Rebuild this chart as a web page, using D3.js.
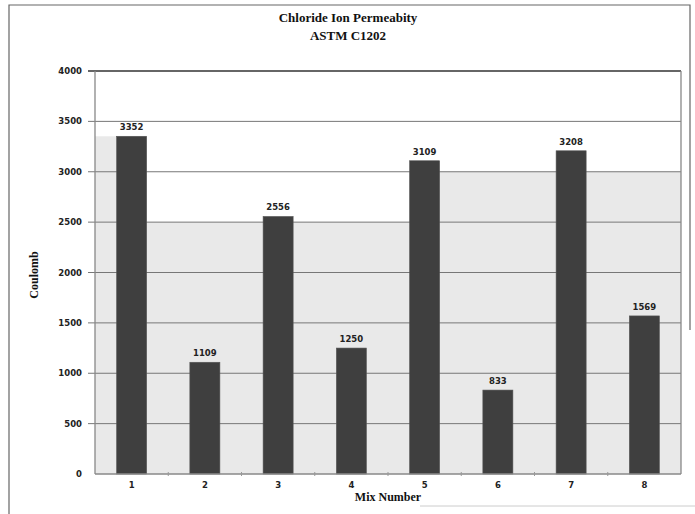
<!DOCTYPE html>
<html lang="en">
<head>
    <meta charset="UTF-8">
    <title>Chloride Ion Permeability</title>
    <script src="https://d3js.org/d3.v7.min.js"></script>
    <style>
        body { margin: 0; background: #fff; }
        .tick-lbl { font-family: "DejaVu Sans", sans-serif; font-weight: bold; font-size: 8.5px; fill: #222; }
        .val-lbl { font-family: "DejaVu Sans", sans-serif; font-weight: bold; font-size: 8.5px; fill: #222; }
        .title { font-family: "Liberation Serif", serif; font-weight: bold; font-size: 13px; fill: #111; }
        .axis-title { font-family: "Liberation Serif", serif; font-weight: bold; font-size: 12px; fill: #111; }
    </style>
</head>
<body>
    <svg id="chart"></svg>
    <script>
        const mixes = ["1", "2", "3", "4", "5", "6", "7", "8"];
        const coulomb = [3352, 1109, 2556, 1250, 3109, 833, 3208, 1569];
        const yTicks = [0, 500, 1000, 1500, 2000, 2500, 3000, 3500, 4000];

        const width = 695, height = 514;
        const plotLeft = 95, plotRight = 681, plotTop = 71, plotBottom = 474;

        const svg = d3.select("#chart").attr("width", width).attr("height", height);

        const x = d3.scaleBand().domain(mixes).range([plotLeft, plotRight]).paddingInner(0.59).paddingOuter(0.295);
        const y = d3.scaleLinear().domain([0, 4000]).range([plotBottom, plotTop]);
        const step = x.step();

        // outer frame of the scanned page
        svg.append("path")
            .attr("d", "M9,514 L9,5 L690,5 L690,330")
            .attr("fill", "none").attr("stroke", "#666").attr("stroke-width", 1.2);
        svg.append("line").attr("x1", 420).attr("x2", 695).attr("y1", 506).attr("y2", 506)
            .attr("stroke", "#ccc");

        // grey shading in the plot area (scan tone)
        const shade = "#e9e9e9";
        svg.append("rect")
            .attr("x", plotLeft).attr("y", y(2500)).attr("width", plotRight - plotLeft).attr("height", plotBottom - y(2500))
            .attr("fill", shade);
        svg.append("rect")
            .attr("x", plotLeft).attr("y", y(3352)).attr("width", x("1") + x.bandwidth() - plotLeft).attr("height", y(2500) - y(3352))
            .attr("fill", shade);
        svg.append("rect")
            .attr("x", x("5")).attr("y", y(3000)).attr("width", plotRight - x("5")).attr("height", y(2500) - y(3000))
            .attr("fill", shade);

        // gridlines with tick stubs on the left
        svg.append("g").selectAll("line")
            .data(yTicks.filter(d => d > 0))
            .enter().append("line")
            .attr("x1", plotLeft - 7).attr("x2", plotRight)
            .attr("y1", d => y(d)).attr("y2", d => y(d))
            .attr("stroke", d => d === 4000 ? "#333" : "#777")
            .attr("stroke-width", d => d === 4000 ? 1.3 : 1);

        // y tick labels
        svg.append("g").selectAll("text")
            .data(yTicks)
            .enter().append("text")
            .attr("class", "tick-lbl")
            .attr("x", 82).attr("y", d => y(d) + 3)
            .attr("text-anchor", "end")
            .text(d => d);

        // bars
        svg.append("g").selectAll("rect")
            .data(coulomb)
            .enter().append("rect")
            .attr("x", (d, i) => x(mixes[i]))
            .attr("y", d => y(d))
            .attr("width", x.bandwidth())
            .attr("height", d => plotBottom - y(d))
            .attr("fill", "#3f3f3f")
            .attr("stroke", "#555").attr("stroke-width", 0.6);

        // value labels
        svg.append("g").selectAll("text")
            .data(coulomb)
            .enter().append("text")
            .attr("class", "val-lbl")
            .attr("x", (d, i) => x(mixes[i]) + x.bandwidth() / 2)
            .attr("y", d => y(d) - 6)
            .attr("text-anchor", "middle")
            .text(d => d);

        // plot frame
        svg.append("line").attr("x1", plotLeft).attr("x2", plotLeft).attr("y1", plotTop).attr("y2", plotBottom)
            .attr("stroke", "#888").attr("stroke-width", 1.3);
        svg.append("line").attr("x1", plotRight).attr("x2", plotRight).attr("y1", plotTop).attr("y2", plotBottom)
            .attr("stroke", "#888").attr("stroke-width", 1.3);
        svg.append("line").attr("x1", plotLeft).attr("x2", plotRight).attr("y1", plotBottom).attr("y2", plotBottom)
            .attr("stroke", "#888").attr("stroke-width", 1.3);

        // small category separators on the x axis
        svg.append("g").selectAll("line")
            .data(mixes.slice(1))
            .enter().append("line")
            .attr("x1", d => x(d) - (step - x.bandwidth()) / 2)
            .attr("x2", d => x(d) - (step - x.bandwidth()) / 2)
            .attr("y1", plotBottom - 2).attr("y2", plotBottom + 2)
            .attr("stroke", "#999");

        // x tick labels
        svg.append("g").selectAll("text")
            .data(mixes)
            .enter().append("text")
            .attr("class", "tick-lbl")
            .attr("x", d => x(d) + x.bandwidth() / 2)
            .attr("y", 488)
            .attr("text-anchor", "middle")
            .text(d => d);

        // titles
        svg.append("text").attr("class", "title").attr("x", 348).attr("y", 22)
            .attr("text-anchor", "middle").text("Chloride Ion Permeabity");
        svg.append("text").attr("class", "title").attr("x", 348).attr("y", 40)
            .attr("text-anchor", "middle").text("ASTM C1202");

        svg.append("text").attr("class", "axis-title").attr("x", 388).attr("y", 501)
            .attr("text-anchor", "middle").text("Mix Number");
        svg.append("text").attr("class", "axis-title")
            .attr("transform", "translate(38,275) rotate(-90)")
            .attr("text-anchor", "middle").text("Coulomb");
    </script>
</body>
</html>
